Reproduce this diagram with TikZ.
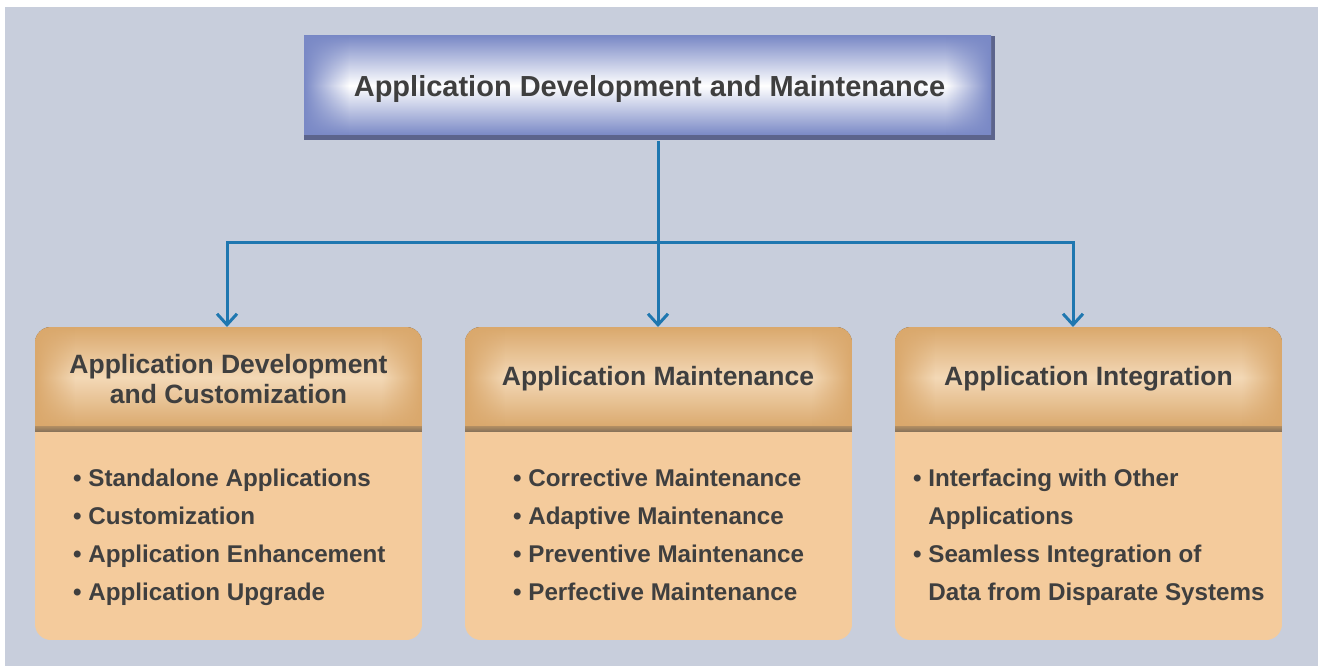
\documentclass[tikz,border=0pt]{standalone}
\usepackage{fontspec}
\setmainfont{Liberation Sans}
\usetikzlibrary{arrows.meta,fadings}
\definecolor{bgblue}{RGB}{200,206,220}
\definecolor{boxblue}{RGB}{122,137,198}
\definecolor{boxshade}{RGB}{92,100,140}
\definecolor{tandark}{RGB}{218,168,108}
\definecolor{tanlight}{RGB}{243,216,182}
\definecolor{tanbody}{RGB}{244,203,156}
\definecolor{tanshade}{RGB}{138,116,90}
\definecolor{linkblue}{RGB}{31,119,176}
\definecolor{txt}{RGB}{63,63,63}
\tikzfading[name=fade right,left color=transparent!0,right color=transparent!100]
\tikzfading[name=fade left,left color=transparent!100,right color=transparent!0]
% soft "pillow" fill: x0 y0 x1 y1 band outer inner
\newcommand\pillow[7]{%
  \fill[top color=#6,bottom color=#6,middle color=#7] (#1,#2) rectangle (#3,#4);
  \fill[#6,path fading=fade right] (#1,#2) rectangle ({#1+#5},#4);
  \fill[#6,path fading=fade left] ({#3-#5},#2) rectangle (#3,#4);
}
\tikzset{
  title/.style={minimum width=691pt,minimum height=104pt,inner sep=0pt,
    text=txt,font=\fontsize{29}{34}\selectfont\bfseries},
  head/.style={minimum width=387pt,minimum height=103pt,inner sep=0pt,anchor=north,
    align=center,text=txt,font=\fontsize{26.5}{30}\selectfont\bfseries},
  items/.style={anchor=base west,inner sep=0pt,align=left,
    text=txt,font=\fontsize{24.2}{38}\selectfont\bfseries},
  link/.style={draw=linkblue,line width=3pt},
  tip/.style={-{Straight Barb[length=11pt,width=20pt]}}
}
\begin{document}
\begin{tikzpicture}[x=1pt,y=-1pt]
  \useasboundingbox (0,0) rectangle (1318,666);
  \fill[bgblue] (5,7) rectangle (1318,666);
  % top box
  \fill[boxshade] (304,36) rectangle (995,140);
  \pillow{304}{36}{991}{135}{45}{boxblue}{white}
  \node[title] (adm) at (649.5,89) {Application Development and Maintenance};
  % cards
  \foreach \x in {35,465,895}{
    \begin{scope}
      \clip[rounded corners=16pt] (\x,327) rectangle ++(387,313);
      \fill[tanbody] (\x,327) rectangle ++(387,313);
      \pillow{\x}{327}{\x+387}{428}{40}{tandark}{tanlight}
      \fill[top color=tandark!50!tanshade,bottom color=tanshade] (\x,426) rectangle ++(387,5);
    \end{scope}
  }
  \node[head] (dev) at (228.5,327) {Application Development\\and Customization};
  \node[head] (mnt) at (658,327) {Application Maintenance};
  \node[head] (int) at (1088.5,327) {Application Integration};
  \node[items] (devlist) at (73,600) {• Standalone Applications\\• Customization\\• Application Enhancement\\• Application Upgrade};
  \node[items] (mntlist) at (513,600) {• Corrective Maintenance\\• Adaptive Maintenance\\• Preventive Maintenance\\• Perfective Maintenance};
  \node[items] (intlist) at (913,600) {• Interfacing with Other\\\phantom{• }Applications\\• Seamless Integration of\\\phantom{• }Data from Disparate Systems};
  % connectors
  \coordinate (hub) at (658,242);
  \coordinate (intin) at ([xshift=-15.5pt]int.north);
  \draw[link] (adm.south -| hub) -- (hub);
  \draw[link,tip] (hub) -| ([xshift=-1.5pt]dev.north);
  \draw[link,tip] (hub) -- (mnt.north);
  \draw[link,tip] (hub) -| (intin);
\end{tikzpicture}
\end{document}
